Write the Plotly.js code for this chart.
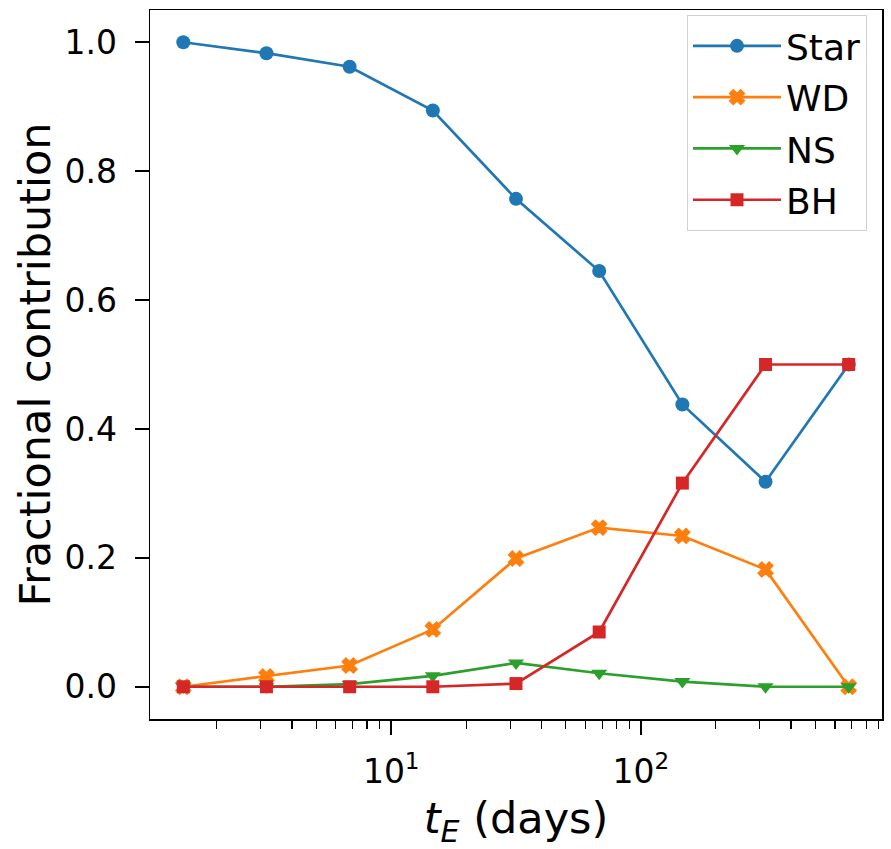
<!DOCTYPE html>
<html>
<head>
<meta charset="utf-8">
<script src="https://cdn.plot.ly/plotly-3.0.1.min.js"></script>
<style>html,body{margin:0;padding:0;background:#fff;}#chart{width:891px;height:849px;}</style>
</head>
<body>
<div id="chart"></div>
<script>
// Einstein crossing time bin centres (days)
var tE = [1.468, 3.162, 6.813, 14.68, 31.62, 68.13, 146.8, 316.2, 681.3];
var star = [1.000, 0.983, 0.962, 0.894, 0.757, 0.645, 0.438, 0.318, 0.500];
var wd   = [0.000, 0.016, 0.033, 0.089, 0.199, 0.247, 0.234, 0.182, 0.000];
var ns   = [0.000, 0.000, 0.004, 0.017, 0.037, 0.021, 0.008, 0.000, 0.000];
var bh   = [0.000, 0.000, 0.000, 0.000, 0.005, 0.085, 0.316, 0.500, 0.500];
var seriesNames = ['Star', 'WD', 'NS', 'BH'];
var xMajorVals = [10, 100];
var xMajorText = ['10<sup>1</sup>', '10<sup>2</sup>'];
var yTickVals = [0, 0.2, 0.4, 0.6, 0.8, 1.0];
var yTickText = ['0.0', '0.2', '0.4', '0.6', '0.8', '1.0'];

var minorVals = [];
[1, 10, 100].forEach(function (d) { for (var k = 2; k <= 9; k++) minorVals.push(k * d); });

var colors = ['#1f77b4', '#ff7f0e', '#2ca02c', '#d62728'];
var symbols = ['circle', 'x', 'triangle-down', 'square'];
var sizes = [14, 13, 14, 13];
var lineW = [0, 1.5, 0, 0];
var ys = [star, wd, ns, bh];

var traces = ys.map(function (y, i) {
  return {
    x: tE, y: y, name: seriesNames[i], type: 'scatter', mode: 'lines+markers',
    legendgroup: 'g' + i,
    line: {color: colors[i], width: 2.7},
    marker: {color: colors[i], symbol: symbols[i], size: sizes[i], line: {width: lineW[i], color: colors[i]}}
  };
});

var font = 'DejaVu Sans, sans-serif';
var layout = {
  width: 891, height: 849,
  margin: {l: 150, r: 9, t: 10, b: 130},
  paper_bgcolor: '#fff', plot_bgcolor: '#fff',
  font: {family: font, color: '#000'},
  showlegend: true,
  legend: {
    x: 0.9795, y: 0.993, xanchor: 'right', yanchor: 'top',
    bgcolor: 'rgba(255,255,255,0.8)', bordercolor: '#d0d0d0', borderwidth: 1,
    font: {family: font, size: 36, color: '#000'},
    itemwidth: 88, tracegroupgap: 1.5
  },
  xaxis: {
    type: 'log', range: [0.0333, 2.9667],
    showgrid: false, zeroline: false,
    showline: true, linecolor: '#000', linewidth: 1.5, mirror: true,
    ticks: 'outside', ticklen: 14, tickwidth: 1.5, tickcolor: '#000',
    tickvals: xMajorVals, ticktext: xMajorText, ticklabelstandoff: 9,
    tickfont: {family: font, size: 33, color: '#000'},
    minor: {tickvals: minorVals, ticks: 'outside', ticklen: 8, tickwidth: 1.2, tickcolor: '#000'},
    title: {text: '<i>t</i><sub><i>E</i></sub> (days)', font: {family: font, size: 43, color: '#000'}, standoff: 18}
  },
  yaxis: {
    range: [-0.05, 1.05],
    showgrid: false, zeroline: false,
    showline: true, linecolor: '#000', linewidth: 1.5, mirror: true,
    ticks: 'outside', ticklen: 14, tickwidth: 1.5, tickcolor: '#000',
    tickvals: yTickVals, ticktext: yTickText, ticklabelstandoff: 11,
    tickfont: {family: font, size: 33, color: '#000'},
    title: {text: 'Fractional contribution', font: {family: font, size: 43, color: '#000'}, standoff: 0}
  }
};

Plotly.newPlot('chart', traces, layout, {displayModeBar: false, staticPlot: true});
</script>
</body>
</html>
